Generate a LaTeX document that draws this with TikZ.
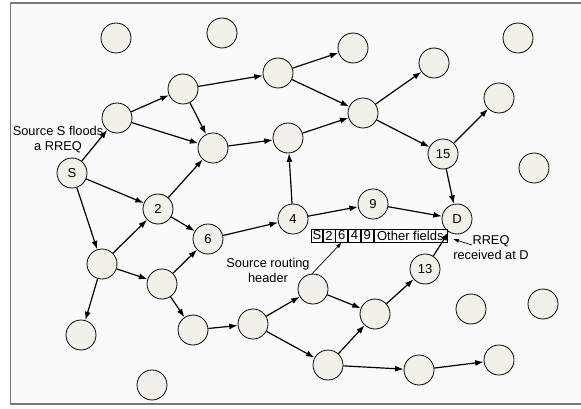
\documentclass[tikz,border=0pt]{standalone}
\usepackage{fontspec}
\setmainfont{Liberation Sans}
\usetikzlibrary{arrows.meta}
\definecolor{nodefill}{HTML}{F1F1EA}
\definecolor{bgfill}{HTML}{FAFAFA}
\definecolor{framecol}{HTML}{7A7A7A}
\begin{document}
\begin{tikzpicture}[x=1pt,y=-1pt,
  nd/.style={circle,draw=black,fill=nodefill,line width=0.8pt,minimum size=30pt,inner sep=0pt,font=\fontsize{13}{14}\selectfont},
  edge/.style={line width=1.2pt,-{Latex[length=8.5pt,width=6pt]}},
  callout/.style={line width=0.7pt,-{Latex[length=6pt,width=4pt]}},
  cell/.style={draw=black,line width=0.7pt,minimum height=13pt,inner sep=0pt,anchor=west,font=\fontsize{13}{14}\selectfont},
  lbl/.style={align=center,inner sep=1pt,font=\fontsize{12.8}{15}\selectfont}]
\useasboundingbox (0,0) rectangle (581,409);
\fill[white] (0,0) rectangle (581,409);
\begin{scope}
\clip (0,0) rectangle (581,409);
\draw[framecol,fill=bgfill,line width=1.6pt] (10.5,3) rectangle (590,404);
\end{scope}
% nodes
\node[nd] (S) at (72,173) {S};
\node[nd] (n1) at (117,118) {};
\node[nd] (n2) at (183,89) {};
\node[nd] (n3) at (213,148) {};
\node[nd] (n4) at (278,73) {};
\node[nd] (n5) at (288,138) {};
\node[nd] (t1) at (116,38) {};
\node[nd] (t2) at (222,33) {};
\node[nd] (m1) at (353,48) {};
\node[nd] (m2) at (363,113) {};
\node[nd] (m3) at (434,63) {};
\node[nd] (tr) at (518,38) {};
\node[nd] (r1) at (499,98) {};
\node[nd] (v15) at (443,154) {15};
\node[nd] (r2) at (534,168) {};
\node[nd] (v2) at (158,209) {2};
\node[nd] (v6) at (208,239) {6};
\node[nd] (v4) at (293,219) {4};
\node[nd] (v9) at (373,204) {9};
\node[nd] (D) at (457,219) {D};
\node[nd] (b1) at (102,264) {};
\node[nd] (b2) at (162,284) {};
\node[nd] (b3) at (81,335) {};
\node[nd] (b4) at (193,330) {};
\node[nd] (b5) at (253,324) {};
\node[nd] (b6) at (152,385) {};
\node[nd] (c1) at (313,289) {};
\node[nd] (c2) at (375,314) {};
\node[nd] (v13) at (425,269) {13};
\node[nd] (c3) at (471,309) {};
\node[nd] (c4) at (543,304) {};
\node[nd] (c5) at (328,365) {};
\node[nd] (c6) at (419,370) {};
\node[nd] (c7) at (499,360) {};
% edges
\foreach \a/\b in {S/n1,S/v2,S/b1,n1/n2,n1/n3,n2/n4,n2/n3,n3/n5,v2/n3,v2/v6,
  n4/m1,n4/m2,n5/m2,m2/m3,m2/v15,v15/r1,v15/D,v4/n5,v4/v9,v9/D,v6/v4,
  b1/v2,b1/b2,b1/b3,b2/v6,b2/b4,b4/b5,b5/c1,b5/c5,c1/c2,c5/c2,c5/c6,c6/c7,c2/v13,v13/D}
  \draw[edge] (\a) -- (\b);
% header
\node[cell,minimum width=11pt] (h1) at (311,235.5) {S};
\node[cell,minimum width=12pt] (h2) at (h1.east) {2};
\node[cell,minimum width=12pt] (h3) at (h2.east) {6};
\node[cell,minimum width=12pt] (h4) at (h3.east) {4};
\node[cell,minimum width=12pt] (h5) at (h4.east) {9};
\node[cell,minimum width=73pt] (h6) at (h5.east) {Other fields};
% labels
\node[lbl] (srcS) at (58,140) {Source S floods\\a RREQ};
\node[lbl] (srh) at (268,270) {Source routing\\header};
\node[lbl] (rrq) at (491,248) {RREQ\\received at D};
\coordinate (rrstart) at (472,245);
\coordinate (rrtip) at (453,239);
\draw[callout] ([xshift=1pt,yshift=-4pt]srh.east) -- (h3.south);
\draw[callout] (rrstart) -- (rrtip);
\end{tikzpicture}
\end{document}
